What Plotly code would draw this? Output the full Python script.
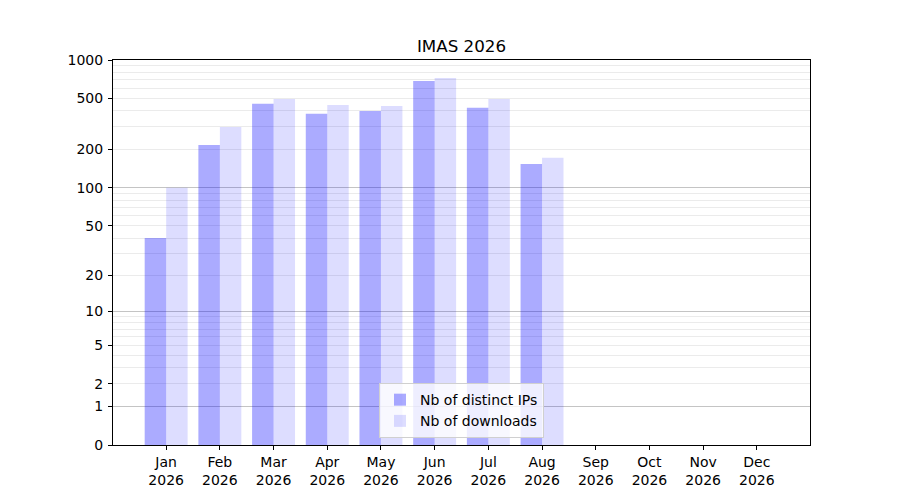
import numpy as np
import plotly.graph_objects as go

months = ["Jan", "Feb", "Mar", "Apr", "May", "Jun", "Jul", "Aug", "Sep", "Oct", "Nov", "Dec"]
year = "2026"
distinct_ips = [40, 217, 455, 380, 400, 686, 423, 154]
downloads = [100, 300, 497, 446, 438, 724, 497, 172]
ytick_vals = [0, 1, 2, 5, 10, 20, 50, 100, 200, 500, 1000]
major_grid = [1, 10, 100, 1000]
minor_grid = [m * d for d in (1, 10, 100) for m in range(2, 10)]


def tr(v):
    # log10(1 + v) scale, like the symlog-ish axis of the original
    return np.log10(1 + np.asarray(v, dtype=float))


fig = go.Figure()
fig.add_trace(go.Bar(
    x=months[:len(distinct_ips)],
    y=tr(distinct_ips),
    name="Nb of distinct IPs",
    marker=dict(color="rgba(0,0,255,0.33)", line=dict(width=0)),
))
fig.add_trace(go.Bar(
    x=months[:len(downloads)],
    y=tr(downloads),
    name="Nb of downloads",
    marker=dict(color="rgba(0,0,255,0.135)", line=dict(width=0)),
))
# invisible trace to drive the darker major grid
fig.add_trace(go.Scatter(x=[months[0]], y=[0], yaxis="y2", mode="markers",
                         marker=dict(opacity=0), showlegend=False, hoverinfo="skip"))

yrange = [0, tr(1000)]
fig.update_layout(
    width=900,
    height=500,
    plot_bgcolor="white",
    paper_bgcolor="white",
    font=dict(family="DejaVu Sans", size=14, color="black"),
    title=dict(text="IMAS 2026", x=0.5, xref="paper", xanchor="center",
               y=1 - 38 / 500, yanchor="middle", font=dict(size=16.7)),
    margin=dict(l=105, r=98, t=52, b=63),
    barmode="group",
    bargap=0.2,
    bargroupgap=0,
    legend=dict(
        x=0.5, xanchor="center", y=0.018, yanchor="bottom",
        bgcolor="rgba(255,255,255,0.8)", bordercolor="#d0d0d0", borderwidth=1,
        font=dict(size=14), tracegroupgap=0,
    ),
)
fig.update_xaxes(
    type="category",
    categoryorder="array",
    categoryarray=months,
    tickvals=months,
    ticktext=[f"{m}<br>{year}" for m in months],
    range=[-0.99, 11.99],
    showline=True, linecolor="black", linewidth=1, mirror=True,
    ticks="outside", ticklen=4, tickcolor="black",
    showgrid=False,
)
fig.update_layout(
    yaxis=dict(
        range=yrange,
        tickmode="array",
        tickvals=tr(ytick_vals),
        ticktext=[str(v) for v in ytick_vals],
        showgrid=False,
        zeroline=False,
        showline=True, linecolor="black", linewidth=1, mirror=True,
        ticks="outside", ticklen=4, tickcolor="black",
        ticklabelstandoff=2,
        minor=dict(tickmode="array", tickvals=tr(minor_grid), showgrid=True,
                   gridcolor="#ebebeb", gridwidth=1, ticks=""),
    ),
    yaxis2=dict(
        range=yrange,
        overlaying="y",
        tickmode="array",
        tickvals=tr(major_grid),
        showticklabels=False,
        showgrid=True,
        gridcolor="#c4c4c4",
        gridwidth=1,
        zeroline=False,
        showline=False,
        ticks="",
    ),
)

fig.write_html("out.html")
